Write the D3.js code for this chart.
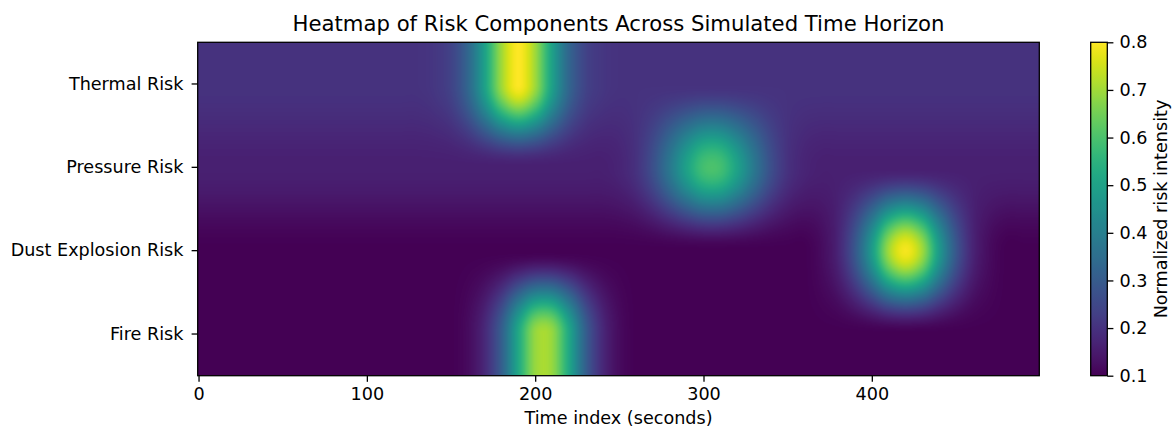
<!DOCTYPE html>
<html><head><meta charset="utf-8">
<script src="https://cdn.jsdelivr.net/npm/d3@7"></script>
<style>
body{margin:0;background:#fff}
svg{display:block}
text{font-family:'DejaVu Sans',sans-serif;fill:#000}
</style>
</head><body>
<svg id="chart" width="1174" height="434"></svg>
<script>
// ---- data ----
const categories = ["Thermal Risk", "Pressure Risk", "Dust Explosion Risk", "Fire Risk"];
const timeIndex = [0,10,20,30,40,50,60,70,80,90,100,110,120,130,140,150,160,170,180,190,
                   200,210,220,230,240,250,260,270,280,290,300,310,320,330,340,350,360,370,380,390,
                   400,410,420,430,440,450,460,470,480,490];
const thermalRisk = [0.20,0.20,0.20,0.20,0.20,0.20,0.20,0.20,0.20,0.20,
                     0.20,0.20,0.20,0.20,0.21,0.24,0.33,0.50,0.70,0.80,
                     0.70,0.50,0.33,0.24,0.21,0.20,0.20,0.20,0.20,0.20,
                     0.20,0.20,0.20,0.20,0.20,0.20,0.20,0.20,0.20,0.20,
                     0.20,0.20,0.20,0.20,0.20,0.20,0.20,0.20,0.20,0.20];
const pressureRisk = [0.16,0.16,0.16,0.16,0.16,0.16,0.16,0.16,0.16,0.16,
                      0.16,0.16,0.16,0.16,0.16,0.16,0.16,0.16,0.16,0.16,
                      0.16,0.16,0.16,0.16,0.16,0.17,0.20,0.27,0.38,0.50,
                      0.59,0.59,0.50,0.38,0.27,0.20,0.17,0.16,0.16,0.16,
                      0.16,0.16,0.16,0.16,0.16,0.16,0.16,0.16,0.16,0.16];
const dustExplosionRisk = [0.10,0.10,0.10,0.10,0.10,0.10,0.10,0.10,0.10,0.10,
                           0.10,0.10,0.10,0.10,0.10,0.10,0.10,0.10,0.10,0.10,
                           0.10,0.10,0.10,0.10,0.10,0.10,0.10,0.10,0.10,0.10,
                           0.10,0.10,0.10,0.10,0.10,0.10,0.10,0.12,0.17,0.29,
                           0.48,0.70,0.79,0.70,0.48,0.29,0.17,0.12,0.10,0.10];
const fireRisk = [0.10,0.10,0.10,0.10,0.10,0.10,0.10,0.10,0.10,0.10,
                  0.10,0.10,0.10,0.10,0.10,0.10,0.12,0.18,0.31,0.52,
                  0.69,0.69,0.52,0.31,0.18,0.12,0.10,0.10,0.10,0.10,
                  0.10,0.10,0.10,0.10,0.10,0.10,0.10,0.10,0.10,0.10,
                  0.10,0.10,0.10,0.10,0.10,0.10,0.10,0.10,0.10,0.10];
const xTickValues = [0, 100, 200, 300, 400];
const colorTickValues = [0.1, 0.2, 0.3, 0.4, 0.5, 0.6, 0.7, 0.8];
const timeDomain = [-0.5, 499.5];
const titleText = "Heatmap of Risk Components Across Simulated Time Horizon";
const xLabelText = "Time index (seconds)";
const colorLabelText = "Normalized risk intensity";

// ---- layout ----
const series = [thermalRisk, pressureRisk, dustExplosionRisk, fireRisk];
const mLeft = 197.7, mTop = 42.3, W = 841.6, H = 333.4;
const cbX = 1090.7, cbW = 16.6;
const FS = 17.6, TFS = 21.2, TICK = 6.1, PAD = 6.1, LW = 1.3;

const svg = d3.select("#chart");
svg.append("rect").attr("width", 1174).attr("height", 434).attr("fill", "#fff");

const x = d3.scaleLinear().domain(timeDomain).range([mLeft, mLeft + W]);
const y = d3.scaleBand().domain(categories).range([mTop, mTop + H]);
const [vmin, vmax] = d3.extent(series.flat());
const color = d3.scaleSequential(d3.interpolateViridis).domain([vmin, vmax]);
const gridPos = d3.scaleLinear().domain([timeIndex[0], timeIndex[timeIndex.length - 1]]).range([0, timeIndex.length - 1]);

// horizontal: Catmull-Rom through the samples; vertical: smooth hermite blend between rows
function cr(p0, p1, p2, p3, t) {
  return p1 + 0.5 * t * (p2 - p0 + t * (2 * p0 - 5 * p1 + 4 * p2 - p3 + t * (3 * (p1 - p2) + p3 - p0)));
}
function sample(arr, g) {
  const n = arr.length, i = Math.floor(g), f = g - i;
  const at = k => arr[Math.max(0, Math.min(n - 1, k))];
  return cr(at(i - 1), at(i), at(i + 1), at(i + 2), f);
}

const cw = Math.round(W), ch = Math.round(H);
const canvas = document.createElement("canvas");
canvas.width = cw; canvas.height = ch;
const ctx = canvas.getContext("2d");
const img = ctx.createImageData(cw, ch);
const lut = d3.range(256).map(k => d3.rgb(color(vmin + (k / 255) * (vmax - vmin))));
const rowsH = series.map(arr => {
  const out = new Float64Array(cw);
  for (let px = 0; px < cw; px++) {
    const t = x.invert(mLeft + (px + 0.5) * W / cw);
    out[px] = sample(arr, gridPos(t));
  }
  return out;
});
for (let py = 0; py < ch; py++) {
  const sy = mTop + (py + 0.5) * H / ch;
  const gy = (sy - mTop) / y.step() - 0.5;
  const i = Math.floor(gy), f = gy - i;
  const r = k => rowsH[Math.max(0, Math.min(series.length - 1, k))];
  const b = r(i), c = r(i + 1);
  const wc = f * f * (3 - 2 * f), wb = 1 - wc;
  for (let px = 0; px < cw; px++) {
    const v = wb * b[px] + wc * c[px];
    let k = Math.round((v - vmin) / (vmax - vmin) * 255);
    k = Math.max(0, Math.min(255, k));
    const col = lut[k], o = (py * cw + px) * 4;
    img.data[o] = col.r; img.data[o + 1] = col.g; img.data[o + 2] = col.b; img.data[o + 3] = 255;
  }
}
ctx.putImageData(img, 0, 0);
svg.append("image").attr("x", mLeft).attr("y", mTop).attr("width", W).attr("height", H)
  .attr("preserveAspectRatio", "none").attr("href", canvas.toDataURL());

svg.append("rect").attr("x", mLeft).attr("y", mTop).attr("width", W).attr("height", H)
  .attr("fill", "none").attr("stroke", "#000").attr("stroke-width", LW);

function styleAxis(g) {
  g.select(".domain").remove();
  g.selectAll(".tick line").attr("stroke", "#000").attr("stroke-width", LW);
  g.selectAll(".tick text").attr("font-size", FS).attr("font-family", "DejaVu Sans").attr("fill", "#000");
}
svg.append("g").attr("transform", `translate(0,${mTop + H})`)
  .call(d3.axisBottom(x).tickValues(xTickValues).tickFormat(d3.format("d")).tickSizeInner(TICK).tickSizeOuter(0).tickPadding(PAD))
  .call(styleAxis);
svg.append("g").attr("transform", `translate(${mLeft},0)`)
  .call(d3.axisLeft(y).tickSizeInner(TICK).tickSizeOuter(0).tickPadding(8.2))
  .call(styleAxis);

svg.append("text").attr("x", mLeft + W / 2).attr("y", 30.5).attr("text-anchor", "middle")
  .attr("font-size", TFS).text(titleText);
svg.append("text").attr("x", mLeft + W / 2).attr("y", 424).attr("text-anchor", "middle")
  .attr("font-size", FS).text(xLabelText);

const cy = d3.scaleLinear().domain([vmin, vmax]).range([mTop + H, mTop]);
const defs = svg.append("defs");
const grad = defs.append("linearGradient").attr("id", "cbgrad")
  .attr("x1", 0).attr("y1", 1).attr("x2", 0).attr("y2", 0);
d3.range(0, 1.0001, 0.02).forEach(s => {
  grad.append("stop").attr("offset", s).attr("stop-color", color(vmin + s * (vmax - vmin)));
});
svg.append("rect").attr("x", cbX).attr("y", mTop).attr("width", cbW).attr("height", H)
  .attr("fill", "url(#cbgrad)").attr("stroke", "#000").attr("stroke-width", LW);
svg.append("g").attr("transform", `translate(${cbX + cbW},0)`)
  .call(d3.axisRight(cy).tickValues(colorTickValues).tickFormat(d3.format(".1f")).tickSizeInner(TICK).tickSizeOuter(0).tickPadding(PAD))
  .call(styleAxis);
svg.append("text").attr("transform", `translate(1167,${mTop + H / 2}) rotate(-90)`)
  .attr("text-anchor", "middle").attr("font-size", FS).text(colorLabelText);
</script>
</body></html>
